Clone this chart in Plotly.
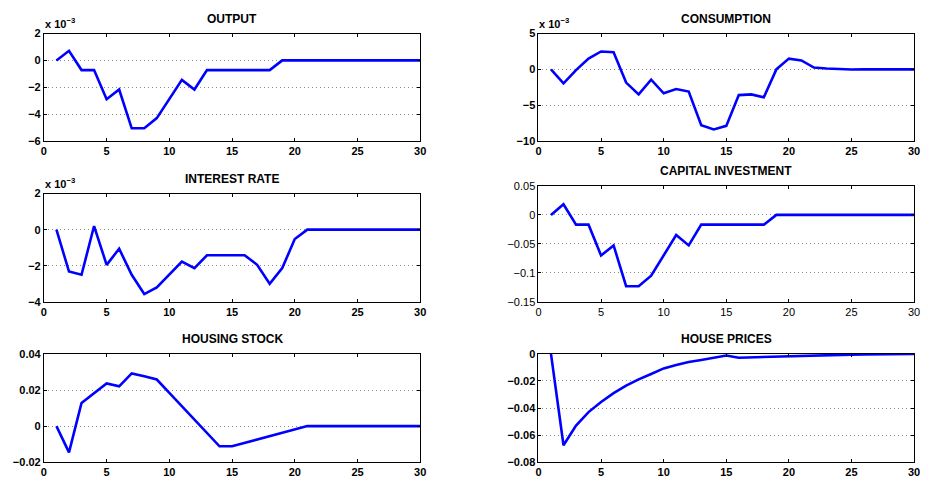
import plotly.graph_objects as go

# Impulse responses over a 30-period horizon
periods = list(range(1, 31))

output = [0.0, 0.00072, -0.00072, -0.00072, -0.00289, -0.00217, -0.00506, -0.00506, -0.0043, -0.00289,
          -0.00145, -0.00217, -0.00072, -0.00072, -0.00072, -0.00072, -0.00072, -0.00072, 0.0, 0.0,
          0.0, 0.0, 0.0, 0.0, 0.0, 0.0, 0.0, 0.0, 0.0, 0.0]

consumption = [0.0, -0.00195, -0.0001, 0.0015, 0.0025, 0.0024, -0.00185, -0.0035, -0.00145, -0.00335,
               -0.00275, -0.0031, -0.0078, -0.0084, -0.0079, -0.0036, -0.0035, -0.0039, 0.0, 0.0015,
               0.00125, 0.00025, 0.00012, 0.0, -0.00002, 0.0, 0.0, 0.0, 0.0, 0.0]

interest_rate = [0.0, -0.00232, -0.0025, 0.0002, -0.00195, -0.00106, -0.0025, -0.00357, -0.0032, -0.0025,
                 -0.00177, -0.00213, -0.00142, -0.00142, -0.00142, -0.00142, -0.00195, -0.003, -0.00213, -0.00052,
                 0.0, 0.0, 0.0, 0.0, 0.0, 0.0, 0.0, 0.0, 0.0, 0.0]

capital_investment = [0.0, 0.0185, -0.0168, -0.0168, -0.07, -0.0526, -0.123, -0.123, -0.105, -0.071,
                      -0.0347, -0.0526, -0.0168, -0.0168, -0.0168, -0.0168, -0.0168, -0.0168, 0.0, 0.0,
                      0.0, 0.0, 0.0, 0.0, 0.0, 0.0, 0.0, 0.0, 0.0, 0.0]

housing_stock = [0.0, -0.0146, 0.0128, 0.018, 0.0236, 0.022, 0.0292, 0.0276, 0.0258, 0.0184,
                 0.011, 0.0036, -0.0038, -0.0112, -0.0112, -0.0093, -0.0075, -0.0056, -0.0037, -0.0019,
                 0.0, 0.0, 0.0, 0.0, 0.0, 0.0, 0.0, 0.0, 0.0, 0.0]

house_prices = [0.0, -0.0675, -0.053, -0.043, -0.0355, -0.029, -0.0235, -0.0188, -0.0148, -0.0107,
                -0.0082, -0.006, -0.0045, -0.003, -0.0012, -0.0028, -0.0025, -0.0021, -0.0018, -0.0015,
                -0.0012, -0.001, -0.0008, -0.0006, -0.0005, -0.0004, -0.0003, -0.0002, -0.0001, 0.0]

titles = ["OUTPUT", "CONSUMPTION", "INTEREST RATE", "CAPITAL INVESTMENT", "HOUSING STOCK", "HOUSE PRICES"]
series = [output, consumption, interest_rate, capital_investment, housing_stock, house_prices]
scales = [1e3, 1e3, 1e3, 1, 1, 1]          # first three panels shown in units of 10^-3

# tick positions and labels
x_tick_vals = [0, 5, 10, 15, 20, 25, 30]
x_tick_labels = ["0", "5", "10", "15", "20", "25", "30"]
y_tick_vals = [
    [-6, -4, -2, 0, 2],
    [-10, -5, 0, 5],
    [-4, -2, 0, 2],
    [-0.15, -0.1, -0.05, 0, 0.05],
    [-0.02, 0, 0.02, 0.04],
    [-0.08, -0.06, -0.04, -0.02, 0],
]
y_tick_labels = [
    ["\u22126", "\u22124", "\u22122", "0", "2"],
    ["\u221210", "\u22125", "0", "5"],
    ["\u22124", "\u22122", "0", "2"],
    ["\u22120.15", "\u22120.1", "\u22120.05", "0", "0.05"],
    ["\u22120.02", "0", "0.02", "0.04"],
    ["\u22120.08", "\u22120.06", "\u22120.04", "\u22120.02", "0"],
]
bold_ticks = [True, True, True, False, True, True]

W, H = 930, 487
# panel boxes in pixels: (left, right, top, bottom)
boxes = [
    (41.3, 421.3, 28.3, 138.3),
    (540.7, 920.0, 28.3, 138.3),
    (41.3, 421.3, 192.3, 303.3),
    (540.7, 920.0, 184.5, 303.3),
    (41.3, 421.3, 356.7, 467.7),
    (540.7, 920.0, 356.7, 467.7),
]

FONT = "Liberation Sans, Arial, Helvetica, sans-serif"


def fmt(labels, bold):
    return ["<b>" + s + "</b>" for s in labels] if bold else list(labels)


fig = go.Figure()
annotations = []
layout = dict(
    width=W, height=H,
    margin=dict(l=0, r=0, t=0, b=0),
    paper_bgcolor="white", plot_bgcolor="white",
    showlegend=False,
    font=dict(family=FONT, color="black"),
)

for i, (title, ys, sc, yv, yl, bold, box) in enumerate(
        zip(titles, series, scales, y_tick_vals, y_tick_labels, bold_ticks, boxes)):
    n = "" if i == 0 else str(i + 1)
    left, right, top, bottom = box
    fig.add_trace(go.Scatter(
        x=periods, y=[v * sc for v in ys], mode="lines",
        line=dict(color="#0000FF", width=2.6),
        xaxis="x" + n, yaxis="y" + n, hoverinfo="skip",
    ))
    tick_font = dict(family=FONT, size=11, color="black")
    layout["xaxis" + n] = dict(
        domain=[left / W, right / W], anchor="y" + n,
        range=[0, 30], tickmode="array", tickvals=x_tick_vals,
        ticktext=fmt(x_tick_labels, bold), showgrid=False, zeroline=False,
        showline=True, linecolor="black", linewidth=1, mirror="ticks",
        ticks="inside", ticklen=3, tickcolor="black", tickfont=tick_font,
    )
    layout["yaxis" + n] = dict(
        domain=[1 - bottom / H, 1 - top / H], anchor="x" + n,
        range=[yv[0], yv[-1]], tickmode="array", tickvals=yv,
        ticktext=fmt(yl, bold), zeroline=False,
        showgrid=True, gridcolor="#8c8c8c", griddash="1px,3px", gridwidth=1,
        showline=True, linecolor="black", linewidth=1, mirror="ticks",
        ticks="inside", ticklen=3, tickcolor="black", tickfont=tick_font,
    )
    annotations.append(dict(
        text="<b>" + title + "</b>", x=(left + right) / 2 / W, y=1 - (top - 15) / H,
        xref="paper", yref="paper", xanchor="center", yanchor="middle",
        showarrow=False, font=dict(family=FONT, size=12, color="black"),
    ))
    if sc != 1:
        annotations.append(dict(
            text="<b>x 10<sup>\u22123</sup></b>", x=(left - 1) / W, y=1 - (top - 2) / H,
            xref="paper", yref="paper", xanchor="left", yanchor="bottom",
            showarrow=False, font=dict(family=FONT, size=11, color="black"),
        ))

layout["annotations"] = annotations
fig.update_layout(**layout)
fig.write_html("out.html")
